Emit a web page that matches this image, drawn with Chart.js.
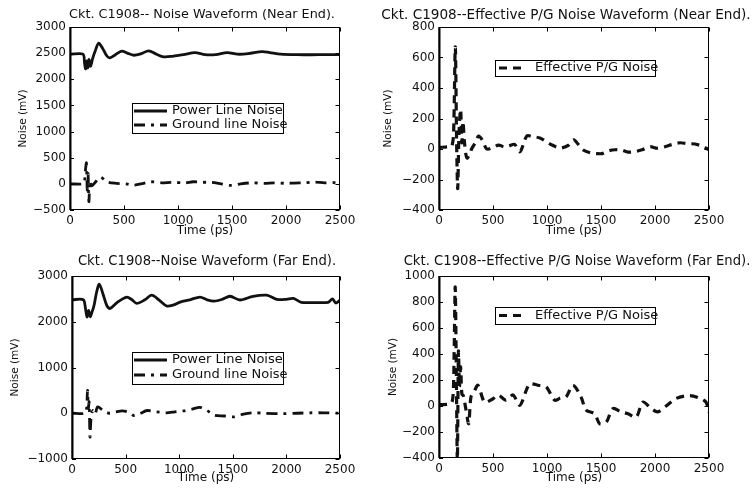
<!DOCTYPE html>
<html>
<head>
<meta charset="utf-8">
<script src="https://cdn.jsdelivr.net/npm/chart.js@4.4.0/dist/chart.umd.min.js"></script>
<style>
  body { margin: 0; background: #fff; width: 756px; height: 494px; overflow: hidden; position: relative; }
  canvas { position: absolute; }
</style>
</head>
<body>
<canvas id="nearNoise" width="378" height="247" style="left:0;top:0"></canvas>
<canvas id="nearPG" width="378" height="247" style="left:378px;top:0"></canvas>
<canvas id="farNoise" width="378" height="247" style="left:0;top:247px"></canvas>
<canvas id="farPG" width="378" height="247" style="left:378px;top:247px"></canvas>
<script>
// --- Near end: power / ground line noise (mV vs ps) ---
const tPowerNear = [0, 120, 135, 145, 155, 165, 175, 190, 210, 235, 265, 300, 340, 370, 420, 480, 530, 590, 660, 728, 800, 867, 950, 1050, 1157, 1250, 1350, 1455, 1550, 1650, 1780, 1850, 1950, 2100, 2300, 2500];
const powerNear  = [2480, 2480, 2300, 2200, 2350, 2220, 2380, 2250, 2400, 2550, 2690, 2600, 2450, 2410, 2470, 2540, 2500, 2460, 2490, 2545, 2480, 2430, 2440, 2470, 2510, 2470, 2470, 2510, 2480, 2490, 2530, 2510, 2480, 2470, 2470, 2470];

const tGroundNear = [0, 120, 135, 145, 152, 160, 167, 175, 185, 200, 230, 280, 340, 430, 520, 590, 680, 745, 850, 940, 1065, 1140, 1220, 1303, 1400, 1488, 1580, 1686, 1800, 1890, 2000, 2074, 2180, 2259, 2360, 2444, 2500];
const groundNear  = [0, 0, 60, 300, 400, -120, 200, -340, 60, -40, 20, 130, 40, 10, 0, -25, 10, 40, 20, 30, 20, 40, 30, 30, 0, -30, 0, 20, 10, 20, 10, 15, 20, 35, 20, 25, 0];

// --- Near end: effective P/G noise ---
const tPGNear = [0, 100, 120, 135, 151, 163, 173, 185, 200, 212, 222, 235, 250, 262, 285, 305, 335, 367, 400, 443, 500, 552, 600, 645, 700, 750, 813, 870, 935, 1000, 1046, 1100, 1138, 1200, 1247, 1290, 1336, 1400, 1460, 1510, 1565, 1630, 1691, 1750, 1815, 1880, 1954, 2020, 2093, 2160, 2231, 2300, 2370, 2430, 2500];
const pgNear  = [10, 15, 20, 100, 670, 50, -260, 100, 260, 40, 180, 50, -40, -60, -30, 5, 40, 85, 60, 0, 10, 26, 15, 20, 30, -18, 85, 80, 72, 45, 26, 10, 7, 25, 60, 30, -7, -25, -30, -30, -13, -5, -7, -20, -17, -5, 15, 5, 15, 30, 41, 35, 33, 20, -5];

// --- Far end: power / ground line noise ---
const tPowerFar = [0, 105, 125, 140, 155, 170, 185, 205, 230, 255, 290, 325, 355, 420, 510, 560, 603, 680, 743, 810, 883, 950, 1008, 1100, 1194, 1260, 1326, 1400, 1474, 1567, 1690, 1816, 1910, 2000, 2065, 2140, 2250, 2390, 2430, 2460, 2500];
const powerFar  = [2480, 2480, 2300, 2105, 2250, 2110, 2200, 2350, 2650, 2820, 2600, 2350, 2290, 2420, 2540, 2480, 2400, 2480, 2580, 2480, 2345, 2370, 2430, 2480, 2540, 2480, 2450, 2490, 2557, 2475, 2557, 2580, 2490, 2490, 2510, 2425, 2420, 2425, 2500, 2410, 2470];

const tGroundFar = [0, 120, 135, 145, 152, 160, 168, 178, 195, 215, 240, 290, 350, 410, 470, 530, 580, 640, 700, 790, 880, 960, 1040, 1120, 1194, 1260, 1326, 1420, 1510, 1600, 1690, 1800, 1970, 2100, 2220, 2350, 2500];
const groundFar  = [0, 0, 80, 500, 100, 250, -520, -100, 60, -20, 140, 60, 0, 30, 50, 20, -50, 0, 60, 30, 10, 30, 50, 90, 130, 60, -40, -60, -80, -20, 10, 0, -10, 0, 10, 10, 0];

// --- Far end: effective P/G noise ---
const tPGFar = [0, 110, 130, 140, 150, 160, 170, 180, 190, 200, 212, 225, 250, 275, 296, 330, 361, 423, 500, 546, 620, 685, 747, 808, 839, 917, 993, 1071, 1120, 1177, 1240, 1315, 1361, 1441, 1487, 1548, 1610, 1687, 1750, 1826, 1888, 1966, 2025, 2103, 2195, 2320, 2413, 2472, 2500];
const pgFar  = [10, 20, 80, 400, 915, 300, -420, 420, 150, 300, 90, 80, -30, -136, 70, 120, 160, 30, 56, 85, 45, 85, 5, 120, 170, 160, 146, 44, 60, 70, 160, 70, -30, -60, -136, -125, -20, -45, -60, -85, 30, -20, -45, 0, 58, 80, 60, 30, -50];

const timeTicks = [0, 500, 1000, 1500, 2000, 2500];

const FONT = 'DejaVu Sans';
const INK = '#111';

const toPoints = (ts, vs) => ts.map((t, i) => ({ x: t, y: vs[i] }));

// MATLAB-like frame: box lines, inward tick marks, title and in-plot legend
const matlabFrame = {
  id: 'matlabFrame',
  afterDraw(chart, args, opts) {
    const { ctx, chartArea: a, scales } = chart;
    ctx.save();
    ctx.setLineDash([]);
    ctx.strokeStyle = '#000';
    ctx.lineWidth = 1;
    const L = Math.round(a.left), R = Math.round(a.right) - 0.5, T = Math.round(a.top) + 0.5, B = Math.round(a.bottom) - 0.5;
    ctx.strokeRect(L, T, R - L, B - T);
    ctx.beginPath();
    scales.x.ticks.forEach(t => {
      const px = Math.round(scales.x.getPixelForValue(t.value)) + 0.5;
      ctx.moveTo(px, B); ctx.lineTo(px, B - 4);
      ctx.moveTo(px, T); ctx.lineTo(px, T + 4);
    });
    scales.y.ticks.forEach(t => {
      const py = Math.round(scales.y.getPixelForValue(t.value)) + 0.5;
      ctx.moveTo(L, py); ctx.lineTo(L + 4, py);
      ctx.moveTo(R, py); ctx.lineTo(R - 4, py);
    });
    ctx.stroke();
    // left spine is heavier in the scan
    ctx.lineWidth = 2;
    ctx.beginPath();
    ctx.moveTo(L + 0.5, a.top); ctx.lineTo(L + 0.5, a.bottom);
    ctx.stroke();

    // title
    ctx.fillStyle = INK;
    ctx.font = `${opts.titleSize}px "${FONT}"`;
    ctx.textAlign = 'center';
    ctx.textBaseline = 'middle';
    ctx.fillText(opts.title, opts.titleX, opts.titleY);

    // legend box
    const lg = opts.legend;
    ctx.fillStyle = '#fff';
    ctx.fillRect(lg.x, lg.y, lg.w, lg.h);
    ctx.strokeStyle = '#000';
    ctx.lineWidth = 1;
    ctx.strokeRect(lg.x + 0.5, lg.y + 0.5, lg.w, lg.h);
    chart.data.datasets.forEach((ds, i) => {
      const ry = lg.rows[i];
      ctx.strokeStyle = INK;
      ctx.lineWidth = ds.borderWidth;
      ctx.setLineDash(ds.borderDash || []);
      ctx.beginPath();
      ctx.moveTo(lg.x + lg.s0, ry);
      ctx.lineTo(lg.x + lg.s1, ry);
      ctx.stroke();
      ctx.setLineDash([]);
      ctx.fillStyle = INK;
      ctx.font = `13px "${FONT}"`;
      ctx.textAlign = 'left';
      ctx.fillText(ds.label, lg.x + lg.tx, ry);
    });
    ctx.restore();
  }
};

const minusTick = v => String(v).replace('-', '\u2212');

function makeChart(id, datasets, box, yRange, frame) {
  const W = 378, H = 247;
  new Chart(document.getElementById(id), {
    type: 'line',
    data: { datasets },
    plugins: [matlabFrame],
    options: {
      responsive: false,
      animation: false,
      devicePixelRatio: 1,
      layout: { padding: { left: 0, top: box.top, right: W - box.right, bottom: 0 } },
      elements: { point: { radius: 0 }, line: { tension: 0.3 } },
      plugins: {
        legend: { display: false },
        tooltip: { enabled: false },
        matlabFrame: frame
      },
      scales: {
        x: {
          type: 'linear',
          min: 0, max: 2500,
          afterBuildTicks: s => { s.ticks = timeTicks.map(v => ({ value: v })); },
          afterFit: s => { s.height = H - box.bottom; },
          grid: { display: false, drawTicks: false },
          border: { display: false },
          ticks: { padding: 4, maxRotation: 0, color: INK, font: { family: FONT, size: 12 }, callback: minusTick },
          title: { display: true, text: 'Time (ps)', color: INK, font: { family: FONT, size: 12 }, padding: { bottom: 9 } }
        },
        y: {
          min: yRange.min, max: yRange.max,
          afterBuildTicks: s => { s.ticks = yRange.ticks.map(v => ({ value: v })); },
          afterFit: s => { s.width = box.left; },
          grid: { display: false, drawTicks: false },
          border: { display: false },
          ticks: { padding: 4, color: INK, font: { family: FONT, size: 12 }, callback: minusTick },
          title: { display: true, text: 'Noise (mV)', color: INK, font: { family: FONT, size: 10.5 }, padding: { top: yRange.titlePad } }
        }
      }
    }
  });
}

const powerStyle  = { borderColor: INK, borderWidth: 2.8, borderDash: [] };
const groundStyle = { borderColor: INK, borderWidth: 2.8, borderDash: [11, 6, 3, 6] };
const pgStyle     = { borderColor: INK, borderWidth: 3.2, borderDash: [8, 6] };

makeChart('nearNoise', [
  { label: 'Power Line Noise', data: toPoints(tPowerNear, powerNear), ...powerStyle },
  { label: 'Ground line Noise', data: toPoints(tGroundNear, groundNear), ...groundStyle }
], { left: 70, top: 27, right: 340, bottom: 210 },
{ min: -500, max: 3000, ticks: [-500, 0, 500, 1000, 1500, 2000, 2500, 3000], titlePad: 17 },
{ title: 'Ckt. C1908-- Noise Waveform (Near End).', titleSize: 12.8, titleX: 202, titleY: 15,
  legend: { x: 132, y: 103, w: 151, h: 30, rows: [111, 125], s0: 2, s1: 35, tx: 40 } });

makeChart('nearPG', [
  { label: 'Effective P/G Noise', data: toPoints(tPGNear, pgNear), ...pgStyle }
], { left: 61, top: 27, right: 331, bottom: 210 },
{ min: -400, max: 800, ticks: [-400, -200, 0, 200, 400, 600, 800], titlePad: 4 },
{ title: 'Ckt. C1908--Effective P/G Noise Waveform (Near End).', titleSize: 13.6, titleX: 188, titleY: 15,
  legend: { x: 117, y: 60, w: 160, h: 16, rows: [68], s0: 4, s1: 31, tx: 40 } });

makeChart('farNoise', [
  { label: 'Power Line Noise', data: toPoints(tPowerFar, powerFar), ...powerStyle },
  { label: 'Ground line Noise', data: toPoints(tGroundFar, groundFar), ...groundStyle }
], { left: 72, top: 29, right: 340, bottom: 212 },
{ min: -1000, max: 3000, ticks: [-1000, 0, 1000, 2000, 3000], titlePad: 9 },
{ title: 'Ckt. C1908--Noise Waveform (Far End).', titleSize: 13.2, titleX: 207, titleY: 15,
  legend: { x: 132, y: 105, w: 151, h: 32, rows: [113, 128], s0: 2, s1: 35, tx: 40 } });

makeChart('farPG', [
  { label: 'Effective P/G Noise', data: toPoints(tPGFar, pgFar), ...pgStyle }
], { left: 61, top: 29, right: 331, bottom: 211 },
{ min: -400, max: 1000, ticks: [-400, -200, 0, 200, 400, 600, 800, 1000], titlePad: 9 },
{ title: 'Ckt. C1908--Effective P/G Noise Waveform (Far End).', titleSize: 13.2, titleX: 199, titleY: 15,
  legend: { x: 117, y: 60, w: 160, h: 17, rows: [68.5], s0: 4, s1: 31, tx: 40 } });
</script>
</body>
</html>
